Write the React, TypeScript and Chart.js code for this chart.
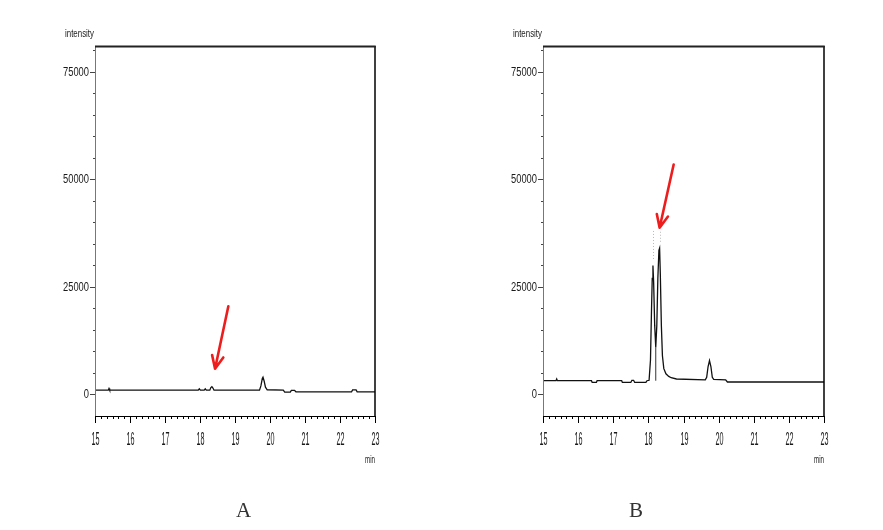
import React, { useEffect, useRef } from "react";
import { Chart, registerables } from "chart.js";

Chart.register(...registerables);

// ---- data ----
const timeA = [15.0, 15.38, 15.4, 15.42, 17.95, 17.98, 18.01, 18.12, 18.15, 18.18, 18.28, 18.31, 18.34, 18.37, 18.4, 19.7, 19.74, 19.78, 19.8, 19.83, 19.87, 19.92, 20.38, 20.42, 20.58, 20.61, 20.7, 20.74, 22.33, 22.36, 22.46, 22.49, 23.0];
const intensityA = [1000, 1000, 1400, 1000, 1000, 1300, 1000, 1000, 1300, 1000, 1000, 1600, 1800, 1500, 1000, 1000, 2000, 3700, 4000, 3200, 1700, 1100, 1000, 550, 550, 950, 950, 620, 620, 1050, 1050, 620, 600];

const timeB = [15.0, 15.37, 15.39, 15.41, 16.38, 16.4, 16.52, 16.54, 17.24, 17.26, 17.5, 17.53, 17.58, 17.61, 17.93, 17.96, 18.02, 18.06, 18.09, 18.11, 18.13, 18.15, 18.18, 18.21, 18.24, 18.27, 18.3, 18.32, 18.34, 18.37, 18.4, 18.44, 18.5, 18.58, 18.65, 18.8, 19.62, 19.66, 19.7, 19.74, 19.78, 19.82, 19.86, 20.2, 20.25, 23.0];
const intensityB = [3200, 3200, 3600, 3200, 3200, 2800, 2800, 3200, 3200, 2800, 2800, 3300, 3300, 2800, 2800, 3200, 3300, 8000, 20000, 27000, 30000, 26000, 16000, 11000, 16000, 27000, 33500, 34000, 28000, 16000, 9000, 6000, 4800, 4200, 3900, 3600, 3400, 4000, 6500, 7900, 6500, 4000, 3500, 3400, 2900, 2900];

// drop line between the two peaks of B
const dropTimeB = [18.21, 18.21];
const dropIntensityB = [3200, 11000];

// faint dotted peak-label marks above B's peaks
const markTimesB = [18.13, 18.32];
const markBottomsB = [31500, 35500];
const markTop = 38300;

// red arrows [time, intensity] start -> tip
const arrowA = [[18.81, 20500], [18.43, 5970]];
const arrowB = [[18.72, 53460], [18.32, 38750]];

const xTicks = [15, 16, 17, 18, 19, 20, 21, 22, 23];
const yTicks = [0, 25000, 50000, 75000];
const yTickLabels = ["0", "25000", "50000", "75000"];
const yMinorStep = 5000;
const xMinorPerUnit = 6;

const X_MIN = 15, X_MAX = 23, Y_MIN = -5000, Y_MAX = 81000;
const NARROW = "'Liberation Sans Narrow', 'Liberation Sans', sans-serif";

function drawText(ctx: CanvasRenderingContext2D, text: string, x: number, y: number, fontPx: number, digitW: number | null, targetW: number | null, align: CanvasTextAlign, baseline: CanvasTextBaseline) {
  ctx.save();
  ctx.font = `${fontPx}px ${NARROW}`;
  let sx = 1;
  if (digitW) sx = digitW / ctx.measureText("0").width;
  if (targetW) sx = targetW / ctx.measureText(text).width;
  ctx.textAlign = align;
  ctx.textBaseline = baseline;
  ctx.translate(x, y);
  ctx.scale(sx, 1);
  ctx.fillStyle = "#1a1a1a";
  ctx.fillText(text, 0, 0);
  ctx.restore();
}

function makePlugin(arrow: number[][], marks: boolean) {
  return {
    id: "chromFrame",
    afterDatasetsDraw(chart: any) {
      const ctx: CanvasRenderingContext2D = chart.ctx;
      const xs = chart.scales.x;
      const ys = chart.scales.y;
      const { left, right, top, bottom } = chart.chartArea;

      // dotted marks
      if (marks) {
        ctx.save();
        ctx.strokeStyle = "#b8b8b8";
        ctx.lineWidth = 1;
        ctx.setLineDash([1, 2]);
        markTimesB.forEach((t, i) => {
          const px = Math.round(xs.getPixelForValue(t)) + 0.5;
          ctx.beginPath();
          ctx.moveTo(px, ys.getPixelForValue(markBottomsB[i]));
          ctx.lineTo(px, ys.getPixelForValue(markTop));
          ctx.stroke();
        });
        ctx.restore();
      }

      ctx.save();
      // frame
      ctx.strokeStyle = "#777";
      ctx.lineWidth = 1;
      ctx.beginPath();
      ctx.moveTo(left + 0.5, top);
      ctx.lineTo(left + 0.5, bottom);
      ctx.stroke();
      ctx.strokeStyle = "#000";
      ctx.beginPath();
      ctx.moveTo(left, bottom + 0.5);
      ctx.lineTo(right, bottom + 0.5);
      ctx.stroke();
      ctx.lineWidth = 1.5;
      ctx.beginPath();
      ctx.moveTo(right, top);
      ctx.lineTo(right, bottom + 1);
      ctx.stroke();
      ctx.strokeStyle = "#222";
      ctx.lineWidth = 2;
      ctx.beginPath();
      ctx.moveTo(left, top + 0.5);
      ctx.lineTo(right + 0.75, top + 0.5);
      ctx.stroke();

      // x ticks
      ctx.strokeStyle = "#000";
      ctx.lineWidth = 1;
      for (let i = 0; i < xTicks.length; i++) {
        const px = Math.round(xs.getPixelForValue(xTicks[i])) + 0.5;
        ctx.beginPath();
        ctx.moveTo(px, bottom);
        ctx.lineTo(px, bottom + 7);
        ctx.stroke();
        drawText(ctx, String(xTicks[i]), px, bottom + 24, 18, 4, null, "center", "middle");
        if (i < xTicks.length - 1) {
          for (let k = 1; k < xMinorPerUnit; k++) {
            const mx = Math.round(xs.getPixelForValue(xTicks[i] + k / xMinorPerUnit)) + 0.5;
            ctx.beginPath();
            ctx.moveTo(mx, bottom);
            ctx.lineTo(mx, bottom + 3);
            ctx.stroke();
          }
        }
      }

      // y ticks
      ctx.strokeStyle = "#444";
      for (let v = 0; v <= Y_MAX; v += yMinorStep) {
        const py = Math.round(ys.getPixelForValue(v)) + 0.5;
        const major = yTicks.indexOf(v) >= 0;
        ctx.beginPath();
        ctx.moveTo(left - (major ? 5 : 2), py);
        ctx.lineTo(left, py);
        ctx.stroke();
      }
      yTicks.forEach((v, i) => {
        drawText(ctx, yTickLabels[i], left - 6, ys.getPixelForValue(v) + 0.5, 12.5, 5.2, null, "right", "middle");
      });

      // axis titles
      drawText(ctx, "intensity", left - 1, top - 9, 10, null, 29, "right", "alphabetic");
      drawText(ctx, "min", right, bottom + 47, 10, null, 10, "right", "alphabetic");

      // red arrow
      const sx = xs.getPixelForValue(arrow[0][0]);
      const sy = ys.getPixelForValue(arrow[0][1]);
      const tx = xs.getPixelForValue(arrow[1][0]);
      const ty = ys.getPixelForValue(arrow[1][1]);
      const ang = Math.atan2(sy - ty, sx - tx);
      const hl = 14, ha = 0.42;
      ctx.strokeStyle = "#ee1d1d";
      ctx.lineWidth = 2.6;
      ctx.lineCap = "round";
      ctx.lineJoin = "round";
      ctx.beginPath();
      ctx.moveTo(sx, sy);
      ctx.lineTo(tx, ty);
      ctx.moveTo(tx + hl * Math.cos(ang - ha), ty + hl * Math.sin(ang - ha));
      ctx.lineTo(tx, ty);
      ctx.lineTo(tx + hl * Math.cos(ang + ha), ty + hl * Math.sin(ang + ha));
      ctx.stroke();
      ctx.restore();
    },
  };
}

function Panel(props: { left: number; width: number; padLeft: number; padRight: number; times: number[]; values: number[]; arrow: number[][]; drop: boolean }) {
  const ref = useRef<HTMLCanvasElement>(null);
  useEffect(() => {
    if (!ref.current) return;
    const datasets: any[] = [
      {
        data: props.times.map((t, i) => ({ x: t, y: props.values[i] })),
        borderColor: "#111",
        borderWidth: 1.3,
        pointRadius: 0,
        tension: 0,
        fill: false,
      },
    ];
    if (props.drop) {
      datasets.push({
        data: dropTimeB.map((t, i) => ({ x: t, y: dropIntensityB[i] })),
        borderColor: "#333",
        borderWidth: 1,
        pointRadius: 0,
        fill: false,
      });
    }
    const chart = new Chart(ref.current, {
      type: "line",
      data: { datasets },
      options: {
        animation: false,
        responsive: false,
        devicePixelRatio: 1,
        layout: { padding: { left: props.padLeft, right: props.padRight, top: 46, bottom: 114 } },
        plugins: { legend: { display: false }, tooltip: { enabled: false } },
        scales: {
          x: { type: "linear", min: X_MIN, max: X_MAX, display: false },
          y: { type: "linear", min: Y_MIN, max: Y_MAX, display: false },
        },
      },
      plugins: [makePlugin(props.arrow, props.drop)],
    });
    return () => chart.destroy();
  }, []);
  return (
    <canvas
      ref={ref}
      width={props.width}
      height={530}
      style={{ position: "absolute", left: props.left, top: 0, width: props.width, height: 530 }}
    />
  );
}

export default function App() {
  const labelStyle: React.CSSProperties = {
    position: "absolute",
    top: 498,
    fontFamily: "'Liberation Serif', 'DejaVu Serif', serif",
    fontSize: 21,
    color: "#333",
    lineHeight: "24px",
  };
  return (
    <div style={{ position: "absolute", left: 0, top: 0, width: 883, height: 530, background: "#fff" }}>
      <Panel left={0} width={441} padLeft={95} padRight={66} times={timeA} values={intensityA} arrow={arrowA} drop={false} />
      <Panel left={441} width={442} padLeft={102} padRight={59} times={timeB} values={intensityB} arrow={arrowB} drop={true} />
      <div style={{ ...labelStyle, left: 236 }}>A</div>
      <div style={{ ...labelStyle, left: 629 }}>B</div>
    </div>
  );
}
